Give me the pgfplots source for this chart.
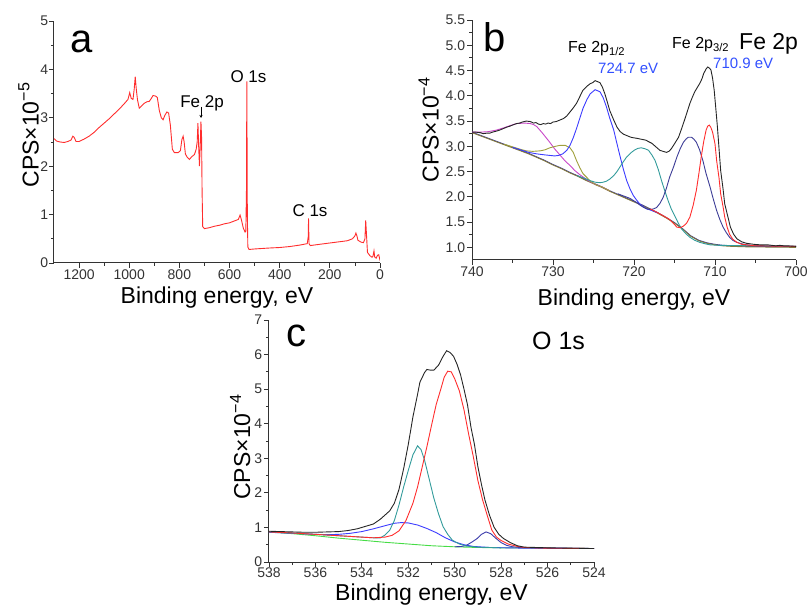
\documentclass[border=0pt]{standalone}
\usepackage{fontspec}
\setmainfont{Liberation Sans}
\usepackage{pgfplots}
\pgfplotsset{compat=1.18}
\usetikzlibrary{arrows.meta}

\definecolor{cRed}{RGB}{255,45,45}
\definecolor{cMag}{RGB}{200,70,200}
\definecolor{cOli}{RGB}{160,160,60}
\definecolor{cBlu}{RGB}{60,60,255}
\definecolor{cTea}{RGB}{50,155,155}
\definecolor{cNav}{RGB}{60,60,150}
\definecolor{cGrn}{RGB}{70,220,70}
\definecolor{cAnn}{RGB}{50,80,255}
\definecolor{cBase}{RGB}{130,120,60}

\pgfplotsset{xps/.style={
  scale only axis, anchor=south west,
  axis x line*=bottom, axis y line*=left,
  axis line style={-, black!80, line width=1pt},
  tick align=outside, major tick length=5pt, minor tick length=3pt,
  every tick/.style={black!80, line width=0.8pt},
  tick label style={font=\fontsize{14}{16}\selectfont, text=black!80, inner sep=1pt},
  label style={font=\fontsize{23}{26}\selectfont, inner sep=0pt},
  /pgf/number format/assume math mode=true,
  /pgf/number format/1000 sep={},
  x dir=reverse,
  every axis plot/.append style={line width=0.9pt, mark=none},
}}

\begin{document}
\begin{tikzpicture}
\useasboundingbox (0,0) rectangle (809pt,606pt);

% ---------- a: survey ----------
\begin{axis}[xps, at={(54pt,343pt)}, width=326pt, height=242pt,
  xmin=0, xmax=1300, ymin=0, ymax=5,
  xtick={0,200,...,1200}, minor x tick num=1,
  ytick={0,1,2,3,4,5}, minor y tick num=1,
  xticklabel style={yshift=-0.7pt}, yticklabel style={xshift=0.3pt},
  xlabel={Binding energy, eV},
  ylabel={CPS×10\textsuperscript{−5}},
  xlabel style={at={(axis description cs:0.5,-0.167)}, anchor=base},
  ylabel style={at={(axis description cs:-0.0475,0.529)}, anchor=base},
]
\addplot[cRed] coordinates {
(1300,2.57) (1290,2.52) (1275,2.50) (1260,2.49) (1245,2.51) (1232,2.54) (1225,2.62) (1220,2.60)
(1212,2.51) (1200,2.51) (1180,2.56) (1160,2.62) (1140,2.70) (1120,2.80) (1100,2.89) (1080,2.98)
(1060,3.08) (1040,3.18) (1020,3.29) (1005,3.38) (998,3.52) (992,3.40) (985,3.38) (980,3.60)
(976,3.85) (972,3.60) (967,3.37) (960,3.20) (950,3.25) (940,3.30) (930,3.33) (920,3.34)
(912,3.40) (905,3.46) (895,3.45) (888,3.42) (880,3.15) (872,3.00) (865,2.96) (858,3.05)
(850,3.12) (843,3.10) (836,2.85) (828,2.35) (820,2.28) (805,2.28) (796,2.32) (790,2.55)
(785,2.62) (781,2.50) (776,2.25) (768,2.18) (760,2.14) (750,2.20) (740,2.24) (733,2.35)
(729,2.50) (726,2.89) (723,2.40) (720,2.00) (717,2.40) (714,2.92) (711.5,2.60) (709.5,1.50)
(707,0.75) (700,0.71) (680,0.73) (660,0.76) (640,0.78) (620,0.81) (600,0.83) (580,0.87)
(565,0.90) (558,0.99) (553,0.90) (545,0.72) (538,0.64) (535,0.66) (532.5,1.50) (531,3.75)
(529,1.00) (527,0.33) (522,0.28) (500,0.29) (470,0.30) (440,0.31) (400,0.32) (360,0.34)
(320,0.37) (300,0.39) (290,0.40) (286,0.55) (285,0.92) (283,0.40) (278,0.36) (250,0.38)
(220,0.40) (190,0.42) (160,0.44) (130,0.46) (110,0.50) (100,0.56) (96,0.62) (92,0.56)
(88,0.47) (75,0.43) (66,0.42) (60,0.50) (57,0.88) (54,0.60) (50,0.22) (40,0.15)
(32,0.12) (28,0.14) (24,0.25) (21,0.12) (15,0.10) (10,0.16) (5,0.17) (2,0.10) (0,0.05)
};
\end{axis}

% ---------- b: Fe 2p ----------
\begin{axis}[xps, at={(472pt,346pt)}, width=324pt, height=240pt,
  xmin=700, xmax=740, ymin=0.75, ymax=5.5,
  xtick={700,710,720,730,740}, minor x tick num=1,
  ytick={1,1.5,2,2.5,3,3.5,4,4.5,5,5.5}, minor y tick num=1,
  xticklabel style={yshift=-0.7pt},
  yticklabel style={xshift=-0.7pt, /pgf/number format/fixed, /pgf/number format/fixed zerofill, /pgf/number format/precision=1},
  xlabel={Binding energy, eV},
  ylabel={CPS×10\textsuperscript{−4}},
  xlabel style={at={(axis description cs:0.5,-0.1875)}, anchor=base},
  ylabel style={at={(axis description cs:-0.103,0.542)}, anchor=base},
]
% background
\addplot[cNav] coordinates {
(740,3.28) (739,3.22) (738,3.16) (737,3.10) (736,3.04) (735,2.98) (734,2.92) (733,2.86)
(732,2.79) (731,2.72) (730,2.64) (729,2.57) (728,2.49) (727,2.42) (726,2.34) (725,2.27)
(724,2.20) (723,2.12) (722,2.05) (721,1.98) (720,1.91) (719,1.84) (718,1.76) (717,1.68)
(716,1.59) (715,1.49) (714,1.37) (713,1.23) (712,1.14) (711,1.09) (710,1.06) (709,1.04)
(708,1.03) (706,1.02) (700,1.01)
};
\addplot[cBase] coordinates {
(740,3.27) (739,3.21) (738,3.15) (737,3.09) (736,3.03) (735,2.97) (734,2.91) (733,2.85)
(732,2.78) (731,2.71) (730,2.63) (729,2.56) (728,2.48) (727,2.41) (726,2.33) (725,2.26)
(724,2.19) (723,2.11) (722,2.04) (721,1.97) (720,1.90) (719,1.83) (718,1.75) (717,1.67)
(716,1.58) (715,1.48) (714,1.36) (713,1.22) (712,1.13) (711,1.08) (710,1.05) (709,1.03)
(708,1.02) (706,1.01) (700,1.00)
};
% magenta
\addplot[cMag] coordinates {
(740,3.28) (739,3.28) (738,3.29) (737,3.32) (736,3.37) (735.3,3.41) (734.5,3.45) (733.5,3.46)
(732.8,3.45) (732.4,3.43) (732,3.39) (731.4,3.28) (730.9,3.18) (730.4,3.08) (729.8,2.95)
(729.1,2.82) (728.5,2.71) (727.9,2.62) (727.3,2.52) (726.7,2.44) (726,2.36) (725.4,2.30)
(724.6,2.23) (724,2.20) (723,2.12)
};
% olive
\addplot[cOli] coordinates {
(736,3.04) (735,2.99) (734,2.94) (733.3,2.91) (732.5,2.90) (731.6,2.91) (731,2.93) (730.4,2.97)
(729.7,3.00) (729.1,3.02) (728.5,3.02) (727.9,2.97) (727.5,2.88) (727.1,2.72) (726.7,2.58)
(726.3,2.46) (725.8,2.38) (725.4,2.31) (724.6,2.23) (724,2.20) (723,2.12)
};
% blue 724.7
\addplot[cBlu] coordinates {
(735,2.98) (734,2.93) (733,2.88) (732,2.85) (731,2.83) (730.4,2.82) (729.8,2.81) (729.3,2.82)
(728.8,2.85) (728.3,2.92) (727.9,3.02) (727.5,3.17) (727.1,3.35) (726.7,3.55) (726.3,3.75)
(725.8,3.93) (725.4,4.04) (724.8,4.12) (724.2,4.08) (723.8,3.96) (723.4,3.78) (723.0,3.56)
(722.5,3.32) (722.1,3.05) (721.7,2.79) (721.3,2.54) (720.9,2.32) (720.5,2.16) (720.1,2.03)
(719.7,1.94) (719.3,1.86) (718.8,1.80) (718.4,1.76) (718,1.74) (717,1.68)
};
% teal
\addplot[cTea] coordinates {
(727,2.42) (726,2.36) (725.4,2.32) (724.8,2.29) (724.2,2.28) (723.8,2.29) (723.4,2.31) (723,2.35)
(722.5,2.42) (722.1,2.50) (721.7,2.60) (721.3,2.70) (720.9,2.79) (720.4,2.87) (719.9,2.93)
(719.5,2.96) (719.1,2.97) (718.6,2.95) (718.2,2.92) (717.8,2.83) (717.4,2.72) (717,2.54)
(716.6,2.32) (716.2,2.12) (715.8,1.93) (715.4,1.76) (714.9,1.60) (714.5,1.47) (714.1,1.36)
(713.6,1.27) (713.1,1.20) (712.5,1.14) (711.9,1.10) (711.2,1.07) (710.6,1.05) (709.5,1.04)
(700,1.02)
};
% navy 713
\addplot[cNav] coordinates {
(722,2.06) (721,2.00) (720.5,1.97) (720,1.92) (719.7,1.89) (719.2,1.83) (718.8,1.79) (718.4,1.76)
(718,1.75) (717.6,1.76) (717.2,1.79) (716.8,1.87) (716.4,1.99) (716,2.17) (715.6,2.39)
(715.1,2.60) (714.7,2.79) (714.3,2.95) (713.9,3.08) (713.6,3.14) (713.3,3.18) (712.9,3.18)
(712.6,3.14) (712.3,3.08) (711.9,2.93) (711.5,2.72) (711.1,2.46) (710.6,2.19) (710.2,1.95)
(709.8,1.73) (709.4,1.55) (709,1.40) (708.6,1.29) (708.2,1.20) (707.8,1.14) (707.3,1.10)
(706.7,1.07) (706.1,1.05) (705,1.03) (700,1.02)
};
% red 710.9
\addplot[cRed] coordinates {
(718,1.76) (717,1.68) (716,1.59) (715.6,1.55) (715.1,1.47) (714.7,1.40) (714.3,1.39) (713.9,1.42)
(713.5,1.48) (713.1,1.60) (712.7,1.83) (712.3,2.13) (712,2.45) (711.7,2.79) (711.4,3.09)
(711.1,3.32) (710.9,3.40) (710.7,3.42) (710.5,3.37) (710.3,3.28) (710.0,3.05) (709.8,2.72)
(709.5,2.37) (709.3,2.06) (709.0,1.80) (708.8,1.60) (708.5,1.40) (708.2,1.26) (707.8,1.16)
(707.3,1.10) (706.7,1.06) (706.1,1.05) (705,1.03) (700,1.02)
};
% measured
\addplot[black!85] coordinates {
(740,3.28) (739.5,3.28) (739,3.27) (738.6,3.25) (738.2,3.26) (737.8,3.26) (737.5,3.28) (737,3.30)
(736.6,3.32) (736.3,3.34) (735.7,3.38) (735.3,3.40) (735,3.42) (734.5,3.45) (734.1,3.46)
(733.8,3.48) (733.3,3.50) (732.8,3.49) (732.4,3.46) (732.1,3.47) (731.8,3.44) (731.5,3.43)
(731.2,3.45) (730.9,3.44) (730.6,3.46) (730.3,3.45) (730,3.48) (729.6,3.49) (729.3,3.51)
(729,3.53) (728.7,3.55) (728.3,3.60) (727.9,3.68) (727.5,3.76) (727.1,3.85) (726.7,3.98)
(726.3,4.11) (725.8,4.19) (725.4,4.24) (725.1,4.26) (724.8,4.30) (724.5,4.28) (724.2,4.26)
(723.9,4.17) (723.6,4.04) (723.3,3.88) (723.0,3.71) (722.5,3.52) (722.1,3.38) (721.7,3.29)
(721.3,3.24) (721,3.22) (720.7,3.20) (720.4,3.18) (720.1,3.17) (719.7,3.16) (719.4,3.15)
(719.1,3.14) (718.8,3.13) (718.5,3.12) (718.3,3.10) (717.8,3.06) (717.3,2.99) (716.8,2.92)
(716.4,2.90) (716.0,2.88) (715.7,2.90) (715.4,2.95) (715.0,3.05) (714.5,3.18) (714.1,3.36)
(713.7,3.55) (713.4,3.70) (713.1,3.85) (712.8,3.97) (712.5,4.08) (712.2,4.16) (711.9,4.24)
(711.6,4.34) (711.4,4.44) (711.1,4.53) (710.9,4.57) (710.7,4.55) (710.5,4.51) (710.3,4.35)
(710.1,4.11) (709.9,3.75) (709.7,3.38) (709.5,2.95) (709.3,2.52) (709.0,2.15) (708.8,1.86)
(708.4,1.60) (708.1,1.40) (707.7,1.26) (707.3,1.17) (706.7,1.11) (706.1,1.08) (705.2,1.06)
(704.4,1.05) (703.5,1.05) (703,1.04) (702.5,1.03) (702,1.04) (701.5,1.03) (701,1.03) (700,1.02)
};
\end{axis}

% ---------- c: O 1s ----------
\begin{axis}[xps, at={(269pt,44pt)}, width=325pt, height=242pt,
  xmin=524, xmax=538, ymin=0, ymax=7,
  xtick={524,526,...,538}, minor x tick num=1,
  ytick={0,1,...,7}, minor y tick num=1,
  xticklabel style={yshift=-0.5pt, inner sep=0pt}, yticklabel style={xshift=-1.7pt, inner sep=0pt},
  xlabel={Binding energy, eV},
  ylabel={CPS×10\textsuperscript{−4}},
  xlabel style={at={(axis description cs:0.5,-0.158)}, anchor=base},
  ylabel style={at={(axis description cs:-0.058,0.475)}, anchor=base},
]
\addplot[cGrn] coordinates {
(538,0.87) (537,0.82) (536,0.76) (535,0.69) (534,0.63) (533,0.57) (532,0.52) (531,0.47)
(530,0.44) (529,0.42) (528,0.41) (526,0.40) (524,0.39)
};
\addplot[cBlu] coordinates {
(538,0.86) (537,0.83) (536,0.80) (535.5,0.79) (535,0.80) (534.5,0.83) (534,0.88) (533.5,0.96)
(533,1.05) (532.6,1.12) (532.3,1.14) (532,1.13) (531.6,1.07) (531.2,0.97) (530.8,0.85)
(530.4,0.70) (530,0.58) (529.6,0.50) (529.2,0.45) (528.5,0.42) (527,0.40) (524,0.39)
};
\addplot[cNav!80!cBlu] coordinates {
(530,0.44) (529.7,0.45) (529.5,0.48) (529.3,0.56) (529.05,0.67) (528.85,0.80) (528.65,0.87)
(528.45,0.82) (528.2,0.67) (528.0,0.56) (527.76,0.48) (527.5,0.44) (527.2,0.42) (526.5,0.41)
(524,0.39)
};
\addplot[cTea] coordinates {
(538,0.87) (536,0.80) (534,0.72) (533.5,0.70) (533.2,0.70) (533.0,0.78) (532.8,0.92) (532.6,1.20)
(532.4,1.65) (532.2,2.17) (532.0,2.65) (531.8,3.10) (531.6,3.36) (531.45,3.25) (531.3,2.95)
(531.1,2.40) (530.9,1.85) (530.7,1.40) (530.5,1.02) (530.3,0.80) (530.1,0.63) (529.8,0.52)
(529.5,0.46) (529,0.43) (528,0.41)
};
\addplot[cRed] coordinates {
(538,0.87) (537,0.84) (536,0.80) (535,0.76) (534,0.72) (533.5,0.70) (533,0.72) (532.7,0.77)
(532.4,0.90) (532.1,1.20) (531.8,1.70) (531.6,2.17) (531.4,2.75) (531.2,3.33) (531.0,3.95)
(530.8,4.55) (530.6,5.00) (530.45,5.35) (530.3,5.52) (530.15,5.50) (530.0,5.30) (529.8,4.95)
(529.6,4.40) (529.4,3.70) (529.2,3.05) (529.0,2.35) (528.8,1.80) (528.6,1.35) (528.4,0.92)
(528.2,0.72) (528,0.62) (527.7,0.52) (527.3,0.45) (527,0.42) (526,0.40) (524,0.39)
};
\addplot[black!85] coordinates {
(538,0.89) (537.5,0.88) (537,0.87) (536.5,0.86) (536,0.86) (535.5,0.87) (535,0.88) (534.6,0.91)
(534.2,0.96) (533.8,1.04) (533.5,1.10) (533.2,1.24) (533,1.36) (532.8,1.48) (532.6,1.70)
(532.4,2.10) (532.2,2.70) (532.0,3.40) (531.8,4.20) (531.6,4.85) (531.5,5.20) (531.3,5.48)
(531.2,5.57) (531.05,5.55) (530.9,5.55) (530.7,5.69) (530.5,5.95) (530.35,6.11) (530.2,6.06)
(530.05,5.95) (529.9,5.72) (529.75,5.42) (529.6,5.00) (529.45,4.55) (529.3,3.90) (529.15,3.40)
(529.0,2.75) (528.85,2.25) (528.7,1.80) (528.5,1.35) (528.3,1.00) (528.1,0.80) (527.9,0.68)
(527.6,0.56) (527.3,0.47) (527.0,0.43) (526.5,0.42) (526,0.41) (525,0.40) (524,0.39)
};
\end{axis}

% ---------- annotations ----------
\node[anchor=base west, inner sep=0, font=\fontsize{40}{40}\selectfont] at (70pt,553pt) {a};
\node[anchor=base, inner sep=0, font=\fontsize{17}{18}\selectfont] at (248.5pt,523pt) {O 1s};
\node[anchor=base, inner sep=0, font=\fontsize{17}{18}\selectfont] at (202pt,498pt) {Fe 2p};
\draw[-{Stealth[length=3pt,width=3pt]}, line width=0.6pt] (201pt,499pt) -- (201pt,488pt);
\node[anchor=base, inner sep=0, font=\fontsize{17}{18}\selectfont] at (310pt,389pt) {C 1s};

\node[anchor=base west, inner sep=0, font=\fontsize{40}{40}\selectfont] at (483pt,554pt) {b};
\node[anchor=base west, inner sep=0, font=\fontsize{16}{18}\selectfont] at (568pt,553pt) {Fe 2p\textsubscript{1/2}};
\node[anchor=base west, inner sep=0, text=cAnn, font=\fontsize{15}{18}\selectfont] at (598pt,532.5pt) {724.7 eV};
\node[anchor=base west, inner sep=0, font=\fontsize{16}{18}\selectfont] at (672pt,557.5pt) {Fe 2p\textsubscript{3/2}};
\node[anchor=base west, inner sep=0, text=cAnn, font=\fontsize{15}{18}\selectfont] at (713pt,537.5pt) {710.9 eV};
\node[anchor=base west, inner sep=0, font=\fontsize{23}{26}\selectfont] at (739pt,556pt) {Fe 2p};

\node[anchor=base west, inner sep=0, font=\fontsize{40}{40}\selectfont] at (286pt,259pt) {c};
\node[anchor=base west, inner sep=0, font=\fontsize{25}{27}\selectfont] at (532pt,256pt) {O 1s};
\end{tikzpicture}
\end{document}
